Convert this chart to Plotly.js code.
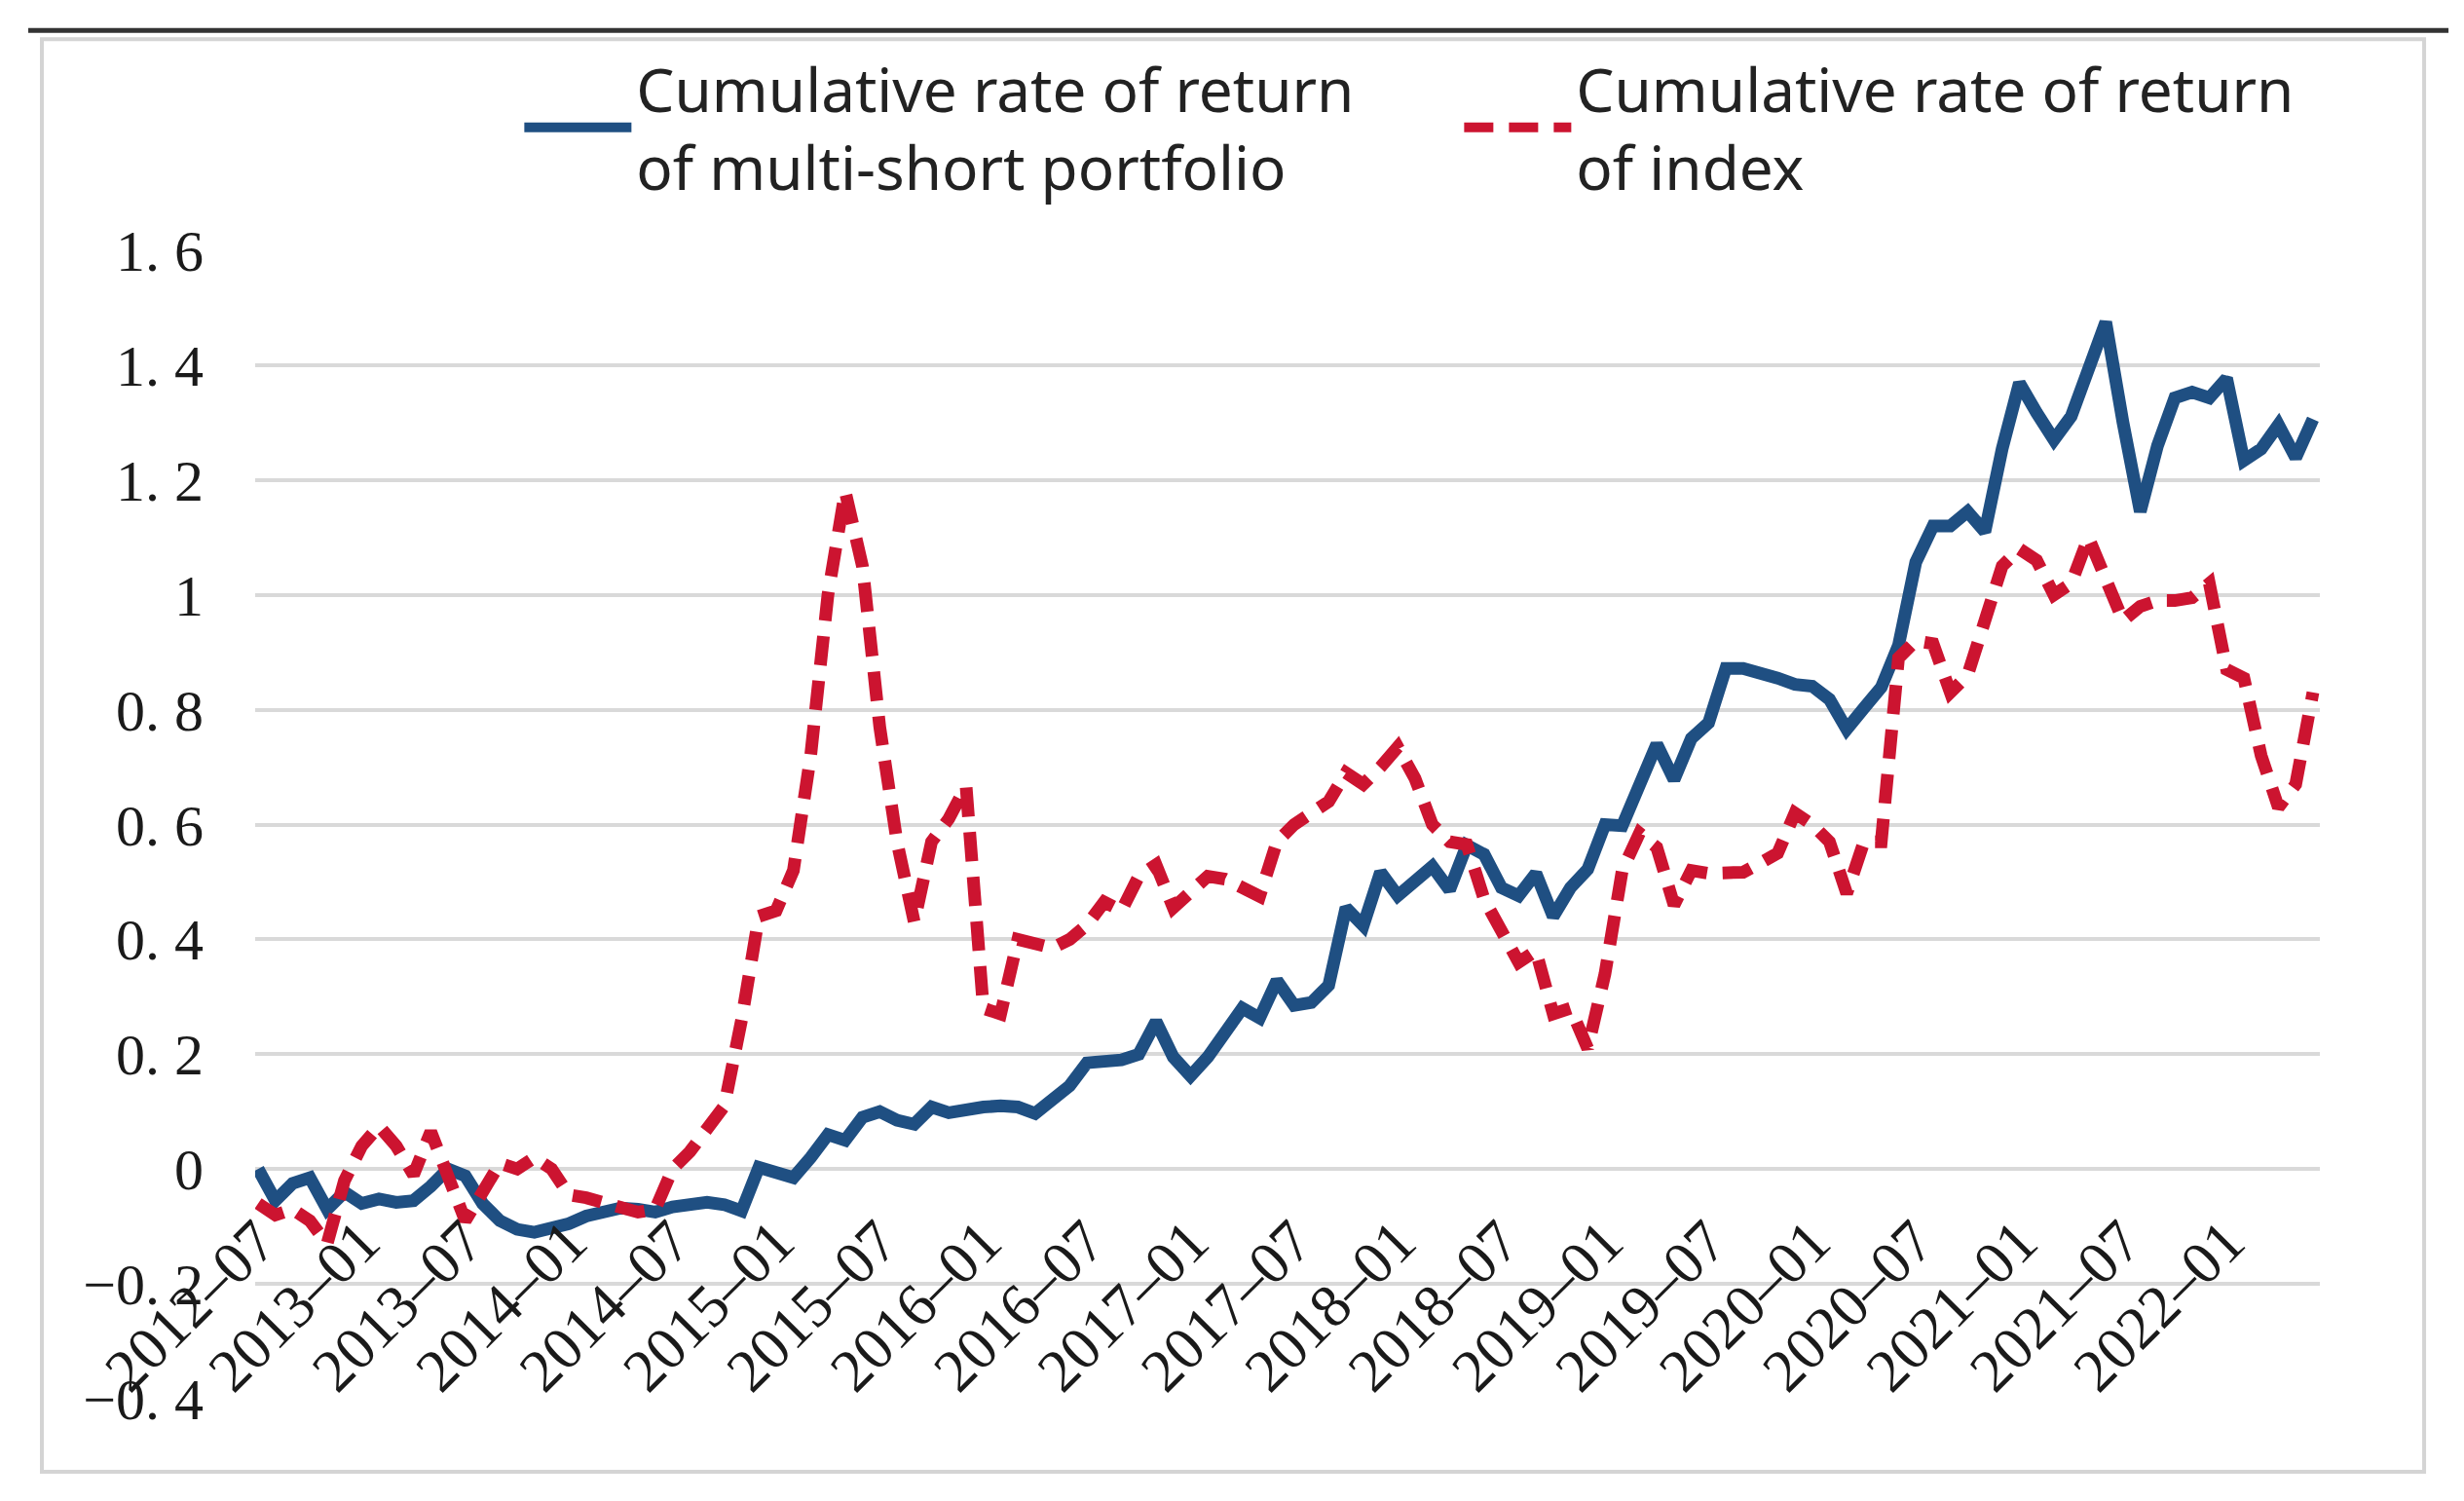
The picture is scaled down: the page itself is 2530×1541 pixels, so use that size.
<!DOCTYPE html>
<html>
<head>
<meta charset="utf-8">
<script src="https://cdn.plot.ly/plotly-3.0.1.min.js"></script>
<style>
html,body{margin:0;padding:0;background:#ffffff;}
#chart{width:2530px;height:1541px;}
</style>
</head>
<body>
<div id="chart"></div>
<script>
// Monthly categories (2012-07 .. 2022-06)
const months = [
"2012-07","2012-08","2012-09","2012-10","2012-11","2012-12",
"2013-01","2013-02","2013-03","2013-04","2013-05","2013-06","2013-07","2013-08","2013-09","2013-10","2013-11","2013-12",
"2014-01","2014-02","2014-03","2014-04","2014-05","2014-06","2014-07","2014-08","2014-09","2014-10","2014-11","2014-12",
"2015-01","2015-02","2015-03","2015-04","2015-05","2015-06","2015-07","2015-08","2015-09","2015-10","2015-11","2015-12",
"2016-01","2016-02","2016-03","2016-04","2016-05","2016-06","2016-07","2016-08","2016-09","2016-10","2016-11","2016-12",
"2017-01","2017-02","2017-03","2017-04","2017-05","2017-06","2017-07","2017-08","2017-09","2017-10","2017-11","2017-12",
"2018-01","2018-02","2018-03","2018-04","2018-05","2018-06","2018-07","2018-08","2018-09","2018-10","2018-11","2018-12",
"2019-01","2019-02","2019-03","2019-04","2019-05","2019-06","2019-07","2019-08","2019-09","2019-10","2019-11","2019-12",
"2020-01","2020-02","2020-03","2020-04","2020-05","2020-06","2020-07","2020-08","2020-09","2020-10","2020-11","2020-12",
"2021-01","2021-02","2021-03","2021-04","2021-05","2021-06","2021-07","2021-08","2021-09","2021-10","2021-11","2021-12",
"2022-01","2022-02","2022-03","2022-04","2022-05","2022-06"
];

// Cumulative rate of return of multi-short portfolio
const portfolio = [
 0.000,-0.055,-0.025,-0.015,-0.070,-0.040,-0.060,-0.052,-0.058,-0.055,
-0.030, 0.000,-0.012,-0.060,-0.090,-0.105,-0.110,-0.105,-0.095,-0.082,
-0.073,-0.068,-0.070,-0.075,-0.066,-0.060,-0.058,-0.062,-0.073, 0.003,
-0.005,-0.015, 0.020, 0.060, 0.050, 0.090, 0.100, 0.085, 0.078, 0.108,
 0.098, 0.105, 0.108, 0.110, 0.108, 0.097, 0.120, 0.145, 0.185, 0.185,
 0.190, 0.200, 0.257, 0.195, 0.162, 0.195, 0.237, 0.280, 0.263, 0.328,
 0.285, 0.290, 0.320, 0.455, 0.424, 0.517, 0.476, 0.500, 0.527, 0.486,
 0.564, 0.548, 0.490, 0.476, 0.515, 0.440, 0.490, 0.522, 0.600, 0.598,
 0.673, 0.740, 0.678, 0.750, 0.777, 0.872, 0.872, 0.865, 0.855, 0.844,
 0.841, 0.818, 0.766, 0.803, 0.839, 0.912, 1.057, 1.120, 1.120, 1.145,
 1.110, 1.254, 1.369, 1.317, 1.270, 1.311, 1.400, 1.475, 1.300, 1.145,
 1.260, 1.343, 1.353, 1.343, 1.377, 1.234, 1.254, 1.296, 1.239, 1.306
];

// Cumulative rate of return of index
const indexReturn = [
-0.060,-0.080,-0.070,-0.090,-0.130,-0.020, 0.040, 0.075, 0.040,-0.010,
 0.065,-0.020,-0.090,-0.040, 0.010, 0.000, 0.020, 0.000,-0.045,-0.050,
-0.060,-0.070,-0.075,-0.070, 0.000, 0.030, 0.070, 0.110, 0.260, 0.440,
 0.450, 0.520, 0.720, 1.000, 1.180, 1.050, 0.770, 0.570, 0.430, 0.570,
 0.610, 0.667, 0.280, 0.270, 0.400, 0.390, 0.385, 0.400, 0.425, 0.465,
 0.450, 0.510, 0.530, 0.455, 0.480, 0.510, 0.505, 0.490, 0.475, 0.570,
 0.600, 0.620, 0.640, 0.690, 0.670, 0.700, 0.735, 0.680, 0.600, 0.570,
 0.565, 0.470, 0.420, 0.360, 0.380, 0.270, 0.280, 0.210, 0.340, 0.520,
 0.585, 0.560, 0.460, 0.520, 0.515, 0.515, 0.517, 0.533, 0.550, 0.620,
 0.600, 0.570, 0.480, 0.570, 0.570, 0.890, 0.920, 0.915, 0.830, 0.860,
 0.950, 1.050, 1.080, 1.060, 1.000, 1.020, 1.100, 1.030, 0.955, 0.980,
 0.990, 0.990, 0.995, 1.020, 0.870, 0.855, 0.720, 0.630, 0.670, 0.830
];

// X tick labels (every 6 months)
const xTickVals = ["2012-07","2013-01","2013-07","2014-01","2014-07","2015-01","2015-07","2016-01","2016-07","2017-01",
                   "2017-07","2018-01","2018-07","2019-01","2019-07","2020-01","2020-07","2021-01","2021-07","2022-01"];
const xTickText = ["2012–07","2013–01","2013–07","2014–01","2014–07","2015–01","2015–07","2016–01","2016–07","2017–01",
                   "2017–07","2018–01","2018–07","2019–01","2019–07","2020–01","2020–07","2021–01","2021–07","2022–01"];

// Y tick labels
const yTickVals = [-0.4,-0.2,0,0.2,0.4,0.6,0.8,1,1.2,1.4,1.6];
const yTickText = ["−0. 4","−0. 2","0","0. 2","0. 4","0. 6","0. 8","1","1. 2","1. 4","1. 6"];

const seriesNames = ["Cumulative rate of return<br>of multi-short portfolio",
                     "Cumulative rate of return<br>of index"];

const yMin = -0.4, yMax = 1.6;

const traces = [
  {x: months, y: portfolio, type: 'scatter', mode: 'lines', name: seriesNames[0],
   line: {color: '#1f4f82', width: 13}},
  {x: months, y: indexReturn, type: 'scatter', mode: 'lines', name: seriesNames[1],
   line: {color: '#cc1430', width: 13, dash: '30px,16px'}}
];

const layout = {
  width: 2530, height: 1541,
  paper_bgcolor: '#ffffff', plot_bgcolor: '#ffffff',
  margin: {l: 262, r: 148, t: 257, b: 105},
  showlegend: true,
  legend: {
    orientation: 'h', x: 0.128, xanchor: 'left', y: 1.181, yanchor: 'top',
    font: {family: '"Noto Sans", sans-serif', size: 62, color: '#222222'},
    itemwidth: 110, entrywidth: 840, entrywidthmode: 'pixels',
    tracegroupgap: 0, bgcolor: 'rgba(0,0,0,0)'
  },
  xaxis: {
    type: 'category',
    range: [-0.17, 119.4],
    anchor: 'free',
    position: (0 - yMin) / (yMax - yMin),
    tickmode: 'array', tickvals: xTickVals, ticktext: xTickText,
    tickangle: -45,
    ticks: 'outside', ticklen: 12, tickcolor: 'rgba(0,0,0,0)',
    showgrid: false, showline: false, zeroline: false,
    tickfont: {family: '"Liberation Serif", "DejaVu Serif", serif', size: 62, color: '#1a1a1a'}
  },
  yaxis: {
    range: [yMin, yMax],
    tickmode: 'array', tickvals: yTickVals, ticktext: yTickText,
    showgrid: true, gridcolor: '#d9d9d9', gridwidth: 4,
    zeroline: true, zerolinecolor: '#d9d9d9', zerolinewidth: 4,
    showline: false,
    ticks: 'outside', ticklen: 40, tickcolor: 'rgba(0,0,0,0)',
    tickfont: {family: '"Liberation Serif", "DejaVu Serif", serif', size: 60, color: '#1a1a1a'}
  },
  shapes: [
    {type: 'rect', xref: 'paper', yref: 'paper', x0: -0.1033, x1: 1.0505, y0: -0.0636, y1: 1.1838,
     line: {color: '#d4d4d4', width: 4}, fillcolor: 'rgba(0,0,0,0)', layer: 'below'},
    {type: 'line', xref: 'paper', yref: 'paper', x0: -0.1099, x1: 1.0623, y0: 1.1914, y1: 1.1914,
     line: {color: '#333333', width: 5}}
  ]
};

Plotly.newPlot('chart', traces, layout, {displayModeBar: false, staticPlot: true});
</script>
</body>
</html>
